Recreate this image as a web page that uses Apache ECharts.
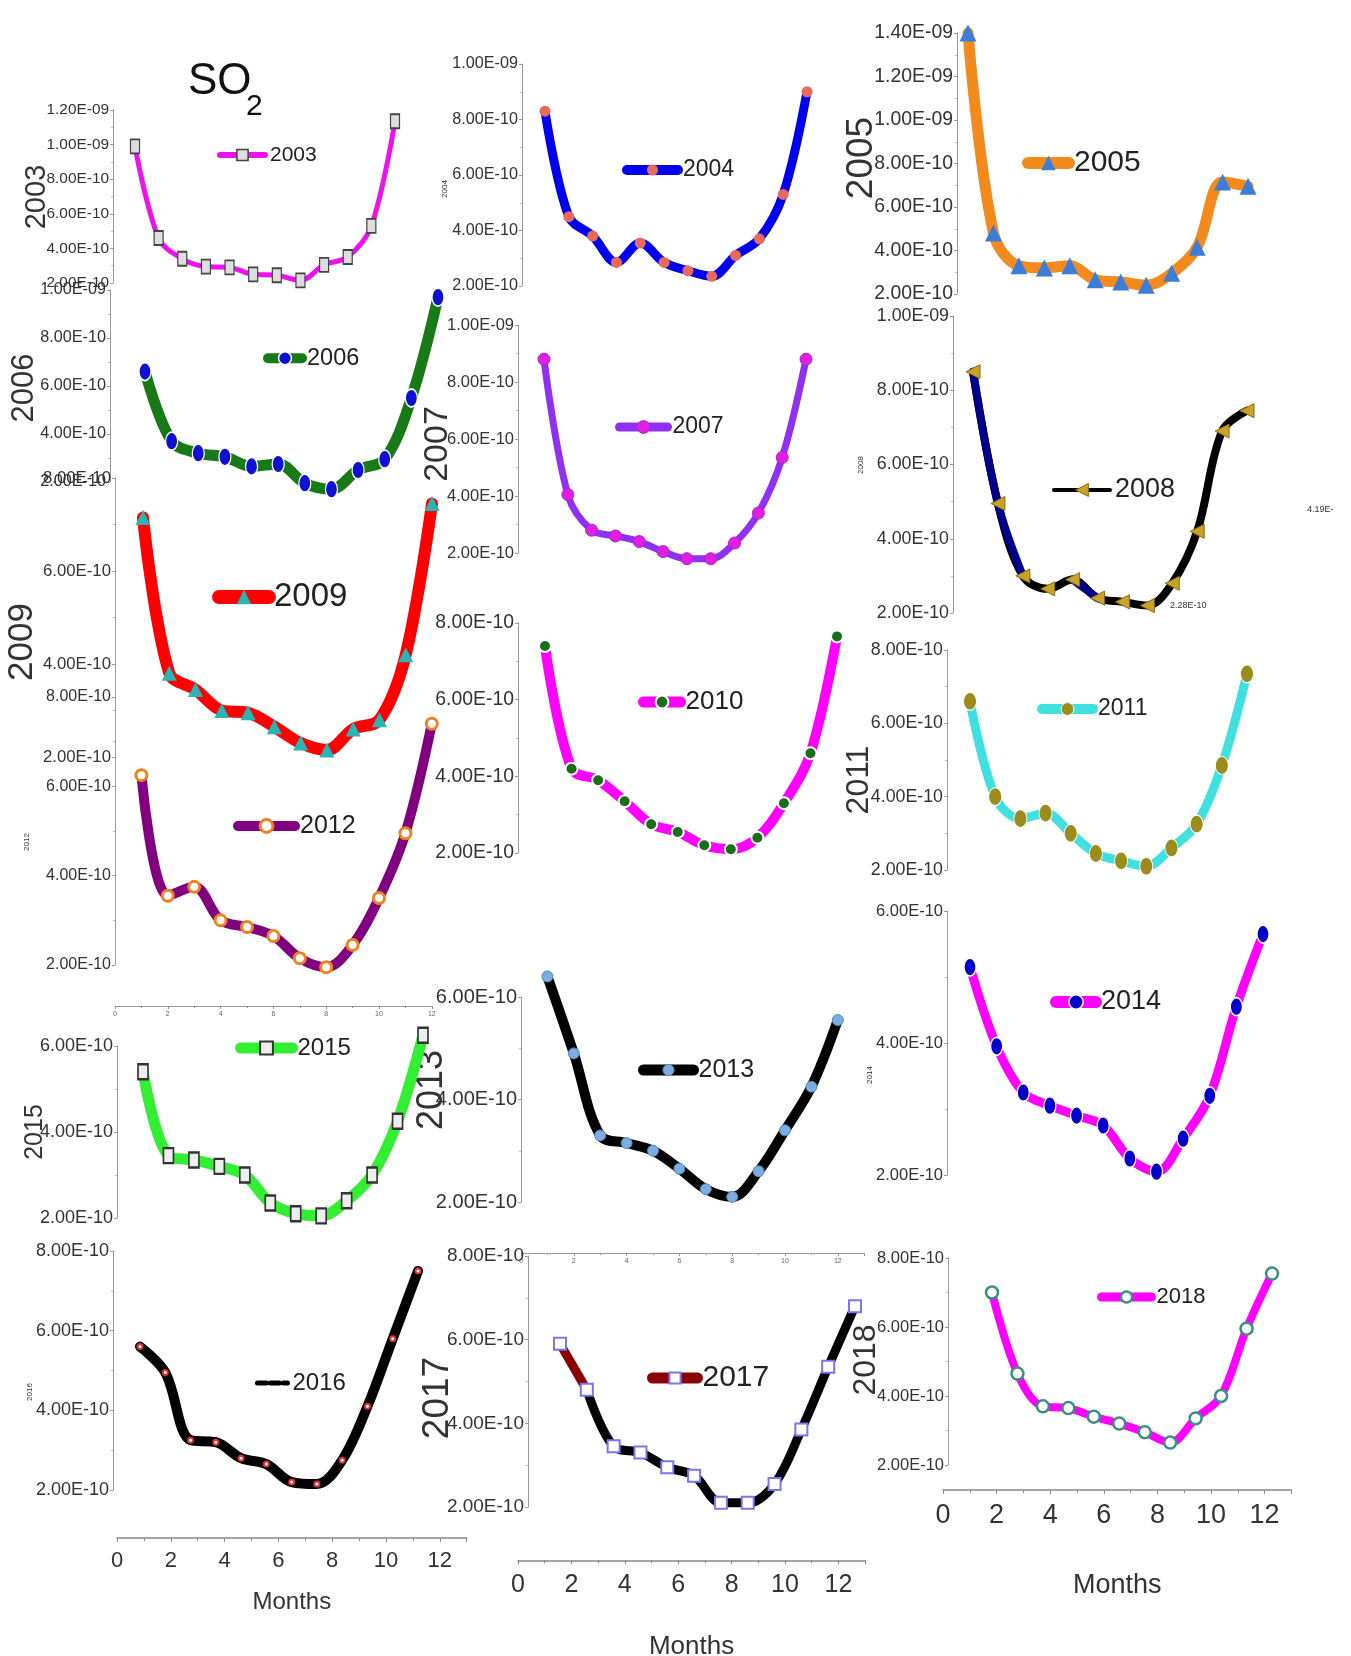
<!DOCTYPE html>
<html><head><meta charset="utf-8">
<script src="https://cdn.jsdelivr.net/npm/echarts@6/dist/echarts.min.js"></script>
<style>html,body{margin:0;padding:0;background:#fff}#c{width:1351px;height:1656px}</style>
</head><body><div id="c"></div>
<script>
// Monthly SO2 values, in units of 1e-10
const months = [1,2,3,4,5,6,7,8,9,10,11,12];
const so2_2003 = [9.9,4.6,3.4,2.95,2.9,2.5,2.45,2.15,3.05,3.5,5.3,11.35];
const so2_2004 = [8.3,4.5,3.8,2.85,3.55,2.85,2.55,2.35,3.1,3.7,5.3,9.0];
const so2_2005 = [14.0,4.8,3.3,3.2,3.3,2.65,2.55,2.4,2.95,4.15,7.15,6.95];
const so2_2006 = [6.6,3.7,3.2,3.05,2.65,2.75,1.95,1.7,2.5,2.95,5.5,9.7];
const so2_2007 = [8.8,4.05,2.8,2.6,2.4,2.05,1.8,1.8,2.35,3.4,5.35,8.8];
const so2_2008 = [8.5,4.95,3.0,2.65,2.9,2.4,2.3,2.2,2.8,4.2,6.9,7.45];
const so2_2009 = [7.15,3.8,3.45,3.0,2.95,2.65,2.3,2.15,2.6,2.8,4.2,7.45];
const so2_2010 = [7.4,4.2,3.9,3.35,2.75,2.55,2.2,2.1,2.4,3.3,4.6,7.65];
const so2_2011 = [6.6,4.0,3.4,3.55,3.0,2.45,2.25,2.1,2.6,3.25,4.85,7.35];
const so2_2012 = [6.25,3.55,3.75,3.0,2.85,2.65,2.15,1.95,2.45,3.5,4.95,7.4];
const so2_2013 = [6.4,4.9,3.3,3.15,3.0,2.65,2.25,2.1,2.6,3.4,4.25,5.55];
const so2_2014 = [5.15,3.95,3.25,3.05,2.9,2.75,2.25,2.05,2.55,3.2,4.55,5.65];
const so2_2015 = [5.4,3.45,3.35,3.2,3.0,2.35,2.1,2.05,2.4,3.0,4.25,6.25];
const so2_2016 = [5.6,4.95,3.25,3.2,2.8,2.65,2.2,2.15,2.75,4.1,5.8,7.5];
const so2_2017 = [5.9,4.8,3.45,3.3,2.95,2.75,2.1,2.1,2.55,3.85,5.35,6.8];
const so2_2018 = [7.0,4.65,3.7,3.65,3.4,3.2,2.95,2.65,3.35,4.0,5.95,7.55];
const monthTicks = [0,2,4,6,8,10,12];

const FONT = "'Liberation Sans',Arial,sans-serif";

function sciLabel(v){ // v in units of 1e-10
  if (v >= 10) return (v/10).toFixed(2) + 'E-09';
  return v.toFixed(2) + 'E-10';
}

// layout / style of each panel
const panels = [
 {year:'2003', data:so2_2003, ax:113, top:110, bot:283, min:2, max:12, x1:135, x12:395, fs:15.4,
  line:'#ee10ee', lw:5, sym:'rect', ss:[9,14], fill:'#ddd', border:'#444', bw:1.5,
  lg:{x:217, cy:155, w:45, fs:21, h:14, lw:6}},
 {year:'2006', data:so2_2006, ax:110, top:290, bot:482, min:2, max:10, x1:145, x12:438, fs:16.2,
  line:'#177a17', lw:11, sym:'circle', ss:[12,18], fill:'#1010d0', border:'#fff', bw:1.5,
  lg:{x:263, cy:358, w:34, fs:23.5, h:16, lw:10}},
 {year:'2009', data:so2_2009, ax:115, top:478, bot:757, min:2, max:8, x1:143, x12:432, fs:16.8,
  line:'#ff0000', lw:12, sym:'triangle', ss:15, fill:'#2ab5b5', border:'#2ab5b5', bw:0,
  lg:{x:212, cy:597, w:50, fs:33, h:18, lw:14}},
 {year:'2012', data:so2_2012, ax:115, top:697, bot:965, min:2, max:8, fs:16,
  visX:{x0:115, pm:26.4, xmax:12, off:41},
  line:'#800080', lw:10, sym:'circle', ss:11, fill:'#fff', border:'#f08020', bw:3,
  lg:{x:233, cy:826, w:57, fs:25, h:16, lw:10}},
 {year:'2015', data:so2_2015, ax:117, top:1046, bot:1218, min:2, max:6, x1:143, x12:423, fs:18,
  line:'#33ee33', lw:11, sym:'rect', ss:[10,15], fill:'#eee', border:'#333', bw:2,
  lg:{x:235, cy:1048, w:52, fs:24, h:16, lw:11}},
 {year:'2016', data:so2_2016, ax:113, top:1251, bot:1490, min:2, max:8, x1:140, x12:418, fs:18,
  line:'#000', lw:10, sym:'emptyCircle', ss:5, fill:'#e03030', border:'#e03030', bw:1,
  lg:{x:255, cy:1383, w:30, fs:24, h:10, lw:5, dashed:true}},
 {year:'2004', data:so2_2004, ax:522, top:64, bot:286, min:2, max:10, x1:545, x12:807, fs:16.2,
  line:'#0000ee', lw:9, sym:'circle', ss:11, fill:'#e86a5a', border:'#e86a5a', bw:0,
  lg:{x:622, cy:170, w:51, fs:23, h:14, lw:10}},
 {year:'2007', data:so2_2007, ax:518, top:325, bot:553, min:2, max:10, x1:544, x12:806, fs:16.5,
  line:'#9030f0', lw:7, sym:'circle', ss:12, fill:'#e020e0', border:'#b020d0', bw:1,
  lg:{x:615, cy:427, w:48, fs:23, h:16, lw:9}},
 {year:'2010', data:so2_2010, ax:518, top:623, bot:853, min:2, max:8, x1:545, x12:837, fs:19.4,
  line:'#ff00ff', lw:10, sym:'circle', ss:12, fill:'#1a6e1a', border:'#fff', bw:2,
  lg:{x:638, cy:702, w:37, fs:26, h:16, lw:11}},
 {year:'2013', data:so2_2013, ax:521, top:997, bot:1202, min:2, max:6, fs:20,
  visX:{x0:521, pm:26.4, xmax:13, off:51},
  line:'#000', lw:10, sym:'circle', ss:11, fill:'#7aaee0', border:'#5588bb', bw:1,
  lg:{x:638, cy:1070, w:50, fs:25, h:14, lw:11}},
 {year:'2017', data:so2_2017, ax:528, top:1256, bot:1507, min:2, max:8, x1:560, x12:855, fs:19,
  line:'#000', lw:9, sym:'rect', ss:12, fill:'#fff', border:'#7777ee', bw:2,
  head:{to:2, color:'#8b0000'},
  lg:{x:647, cy:1378, w:45, fs:30, h:14, lw:11}},
 {year:'2005', data:so2_2005, ax:957, top:33, bot:294, min:2, max:14, x1:968, x12:1248, fs:19.4,
  line:'#f28a1e', lw:11, sym:'triangle', ss:17, fill:'#3b7dd8', border:'#3b7dd8', bw:0,
  lg:{x:1022, cy:163, w:41, fs:30, h:18, lw:12}},
 {year:'2008', data:so2_2008, ax:953, top:316, bot:613, min:2, max:10, x1:973, x12:1247, fs:17.8,
  line:'#000', lw:8, sym:'triangle', rot:90, ss:14, fill:'#c9a227', border:'#8a6d10', bw:1,
  overlay:{idx:[0,1,2,4,5], color:'#000088'},
  lg:{x:1052, cy:490, w:56, fs:27, h:16, lw:4}},
 {year:'2011', data:so2_2011, ax:947, top:650, bot:870, min:2, max:8, x1:970, x12:1247, fs:17.8,
  line:'#40e0e0', lw:9, sym:'circle', ss:[13,18], fill:'#9c8c1c', border:'#fff', bw:1,
  lg:{x:1037, cy:709, w:51, fs:23, h:16, lw:10}},
 {year:'2014', data:so2_2014, ax:947, top:911, bot:1175, min:2, max:6, x1:970, x12:1263, fs:16.5,
  line:'#ff00ff', lw:9, sym:'circle', ss:[12,18], fill:'#0000cc', border:'#fff', bw:1.5,
  lg:{x:1050, cy:1002, w:40, fs:27, h:18, lw:12}},
 {year:'2018', data:so2_2018, ax:948, top:1258, bot:1465, min:2, max:8, x1:992, x12:1272, fs:16.5,
  line:'#ff00ff', lw:8, sym:'circle', ss:12, fill:'#fff', border:'#3a8f80', bw:2.5,
  lg:{x:1097, cy:1297, w:50, fs:22, h:14, lw:9}}
];

// shared "Months" axes at the bottom of each column
const monthAxes = [
 {x0:117, pm:26.9, lineY:1538, fs:22, nfs:24, nameGap:52},
 {x0:518, pm:26.7, lineY:1561, fs:25, nfs:26, nameGap:74},
 {x0:943, pm:26.8, lineY:1490, fs:27, nfs:27, nameGap:82}
];

const grid = [], xAxis = [], yAxis = [], series = [], legend = [];
const axisCol = '#999';

function makeY(p, i, off) {
  return {gridIndex:i, type:'value', min:p.min, max:p.max, interval:2, offset:off,
    axisLine:{show:true, lineStyle:{color:axisCol}},
    axisTick:{show:true, length:3, lineStyle:{color:axisCol}},
    minorTick:{show:true, splitNumber:2, length:2, lineStyle:{color:'#bbb'}},
    splitLine:{show:false},
    axisLabel:{fontSize:p.fs, fontFamily:FONT, color:'#333', margin:4, formatter:sciLabel}};
}

panels.forEach((p, i) => {
  const h = p.bot - p.top;
  if (p.visX) {
    grid.push({left:p.visX.x0, top:p.top, width:p.visX.pm*p.visX.xmax, height:h, containLabel:false});
    xAxis.push({gridIndex:i, type:'value', min:0, max:p.visX.xmax, interval:2, offset:p.visX.off,
      axisLine:{show:true, onZero:false, lineStyle:{color:axisCol}},
      axisTick:{show:true, length:3, lineStyle:{color:axisCol}},
      minorTick:{show:true, splitNumber:2, length:2, lineStyle:{color:axisCol}},
      splitLine:{show:false},
      axisLabel:{fontSize:7, color:'#666', margin:5, fontFamily:FONT,
        formatter: v => monthTicks.indexOf(v) >= 0 ? String(v) : ''}});
    yAxis.push(makeY(p, i, 0));
  } else {
    grid.push({left:p.x1, top:p.top, width:p.x12 - p.x1, height:h, containLabel:false});
    xAxis.push({gridIndex:i, type:'value', min:months[0], max:months[months.length-1], show:false});
    yAxis.push(makeY(p, i, p.x1 - p.ax));
  }
  const pts = months.map((m, k) => [m, p.data[k]]);
  const markerStyle = {color:p.fill, borderColor:p.border, borderWidth:p.bw};
  const base = {type:'line', xAxisIndex:i, yAxisIndex:i, smooth:0.35, clip:false, animation:false};
  if (p.overlay || p.head) {
    if (p.head) {
      series.push(Object.assign({}, base, {name:p.year, data:pts.slice(0, p.head.to), showSymbol:false,
        symbol:p.sym, symbolSize:p.ss, itemStyle:markerStyle,
        lineStyle:{color:p.head.color, width:p.lw, cap:'round'}}));
      series.push(Object.assign({}, base, {name:p.year+'_b', data:pts.slice(p.head.to - 1), showSymbol:false,
        symbol:'none', lineStyle:{color:p.line, width:p.lw, cap:'round'}}));
    } else {
      series.push(Object.assign({}, base, {name:p.year, data:pts, showSymbol:false,
        symbol:p.sym, symbolRotate:p.rot || 0, symbolSize:p.ss, itemStyle:markerStyle,
        lineStyle:{color:p.line, width:p.lw, cap:'round'}}));
      const idx = p.overlay.idx;
      let seg = [];
      idx.forEach((k, j) => {
        seg.push(pts[k]);
        if (j === idx.length - 1 || idx[j+1] !== k + 1) {
          series.push(Object.assign({}, base, {name:p.year+'_o'+j, data:seg, symbol:'none',
            lineStyle:{color:p.overlay.color, width:p.lw, cap:'round'}}));
          seg = [];
        }
      });
    }
    series.push(Object.assign({}, base, {name:p.year+'_m', data:pts, symbol:p.sym, symbolRotate:p.rot || 0,
      symbolSize:p.ss, itemStyle:markerStyle, lineStyle:{width:0, opacity:0}}));
  } else {
    series.push(Object.assign({}, base, {name:p.year, data:pts, symbol:p.sym, symbolRotate:p.rot || 0,
      symbolSize:p.ss, itemStyle:markerStyle, lineStyle:{color:p.line, width:p.lw, cap:'round'}}));
  }
  const L = p.lg;
  const lgd = {show:true, data:[p.year], left:L.x, top:L.cy - Math.max(L.fs, L.h)/2, padding:0,
    itemWidth:L.w, itemHeight:L.h, selectedMode:false,
    textStyle:{fontSize:L.fs, fontFamily:FONT, color:'#222'},
    lineStyle:{width:L.lw, type:L.dashed ? [9,4] : 'solid', color: p.head ? p.head.color : p.line},
    itemStyle: L.dashed ? {opacity:0} : {color:p.fill, borderColor:p.border, borderWidth:p.bw}};
  legend.push(lgd);
});

monthAxes.forEach((a) => {
  const gi = grid.length;
  grid.push({left:a.x0, top:a.lineY - 1, width:a.pm*13, height:1});
  xAxis.push({gridIndex:gi, type:'value', min:0, max:13, interval:2,
    name:'Months', nameLocation:'middle', nameGap:a.nameGap,
    nameTextStyle:{fontSize:a.nfs, fontFamily:FONT, color:'#333'},
    axisLine:{show:true, onZero:false, lineStyle:{color:'#888', width:1.5}},
    axisTick:{show:true, length:4, lineStyle:{color:'#888'}},
    minorTick:{show:true, splitNumber:2, length:3, lineStyle:{color:'#888'}},
    splitLine:{show:false},
    axisLabel:{fontSize:a.fs, fontFamily:FONT, color:'#333', margin:12,
      formatter: v => monthTicks.indexOf(v) >= 0 ? String(v) : ''}});
  yAxis.push({gridIndex:gi, type:'value', min:0, max:1, show:false});
});

// rotated year titles beside axes, and annotations
const titles = [
 ['2003', 37, 197, 29], ['2006', 24, 388, 31], ['2009', 22, 642, 35], ['2012', 27, 842, 8],
 ['2015', 35, 1132, 25], ['2016', 30, 1392, 8],
 ['2004', 445, 189, 8], ['2007', 438, 444, 34], ['2013', 432, 1090, 36], ['2017', 438, 1398, 37],
 ['2005', 862, 158, 37], ['2008', 861, 465, 8], ['2011', 859, 780, 32], ['2014', 870, 1075, 8], ['2018', 866, 1360, 32]
];
const graphic = titles.map(t => ({type:'text', x:t[1], y:t[2], rotation:Math.PI/2, silent:true,
  style:{text:t[0], x:0, y:0, align:'center', verticalAlign:'middle', fontSize:t[3], fontFamily:FONT, fill:'#333'}}));
graphic.push({type:'text', x:188, y:60, style:{text:'SO', fontSize:44, fontFamily:FONT, fill:'#111'}});
graphic.push({type:'text', x:246, y:92, style:{text:'2', fontSize:30, fontFamily:FONT, fill:'#111'}});
graphic.push({type:'text', x:1170, y:606, style:{text:'2.28E-10', fontSize:9, fontFamily:FONT, fill:'#333', verticalAlign:'middle'}});
graphic.push({type:'text', x:1307, y:510, style:{text:'4.19E-', fontSize:9, fontFamily:FONT, fill:'#333', verticalAlign:'middle'}});

const chart = echarts.init(document.getElementById('c'), null, {renderer:'canvas'});
chart.setOption({animation:false, backgroundColor:'#fff', grid, xAxis, yAxis, series, legend, graphic});
</script>
</body></html>
